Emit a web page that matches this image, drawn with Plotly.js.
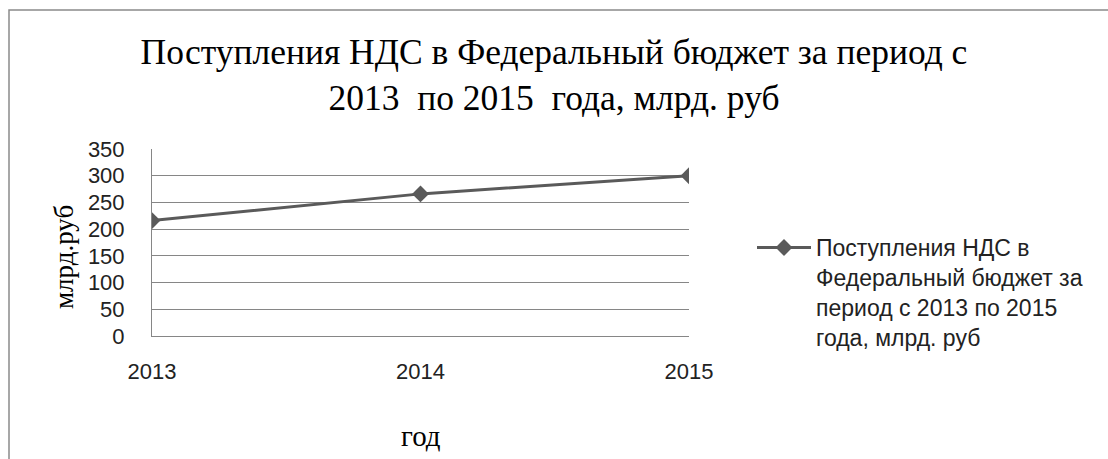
<!DOCTYPE html>
<html>
<head>
<meta charset="utf-8">
<script src="https://cdn.plot.ly/plotly-3.0.1.min.js"></script>
<style>html,body{margin:0;padding:0;background:#fff;}#chart{width:1108px;height:459px;}</style>
</head>
<body>
<div id="chart"></div>
<script>
var years = ['2013', '2014', '2015'];
var vatRevenue = [216, 266, 300];
var yTicks = [0, 50, 100, 150, 200, 250, 300, 350];
var seriesName = 'Поступления НДС в<br>Федеральный бюджет за<br>период с 2013 по 2015<br>года, млрд. руб';
var chartTitle = 'Поступления НДС в Федеральный бюджет за период с<br>2013  по 2015  года, млрд. руб';
var yTitle = 'млрд.руб';
var xTitle = 'год';

var L = 152, R = 689, T = 149, B = 336, W = 1108, H = 459;
function px(x){ return (x - L) / (R - L); }
function py(y){ return (B - y) / (B - T); }

var sansFont = 'Liberation Sans, Arial, sans-serif';
var serifFont = 'Liberation Serif, Times New Roman, serif';

var trace = {
  x: years,
  y: vatRevenue,
  type: 'scatter',
  mode: 'lines+markers',
  name: seriesName,
  line: {color: '#5a5a5a', width: 3},
  marker: {symbol: 'diamond', size: 13, color: '#5a5a5a'},
  showlegend: true,
  hoverinfo: 'x+y'
};

var layout = {
  width: W, height: H,
  margin: {l: L, r: W - R, t: T, b: H - B, pad: 0},
  paper_bgcolor: '#fff',
  plot_bgcolor: '#fff',
  showlegend: true,
  title: {
    text: chartTitle,
    font: {family: serifFont, size: 35.5, color: '#000'},
    x: 0.5, xanchor: 'center', xref: 'container',
    y: 1 - 64 / H, yanchor: 'middle', yref: 'container'
  },
  xaxis: {
    type: 'category',
    range: [0, 2],
    showgrid: false,
    showline: true, linecolor: '#868686', linewidth: 1,
    zeroline: false,
    ticks: 'outside', ticklen: 16, tickcolor: 'rgba(0,0,0,0)',
    tickfont: {family: sansFont, size: 22, color: '#222'},
    fixedrange: true
  },
  yaxis: {
    range: [0, 350],
    tickvals: yTicks,
    ticktext: yTicks.map(String),
    showgrid: true, gridcolor: '#868686', gridwidth: 1,
    showline: true, linecolor: '#868686', linewidth: 1,
    zeroline: false,
    ticks: 'outside', ticklen: 22, tickcolor: 'rgba(0,0,0,0)',
    tickfont: {family: sansFont, size: 22, color: '#222'},
    fixedrange: true
  },
  legend: {
    x: px(752), xanchor: 'left',
    y: py(226), yanchor: 'top',
    valign: 'top',
    itemwidth: 54,
    font: {family: sansFont, size: 23, color: '#222'},
    bgcolor: 'rgba(0,0,0,0)',
    borderwidth: 0
  },
  annotations: [
    {
      text: yTitle, textangle: -90,
      xref: 'paper', yref: 'paper',
      x: px(64), y: py(257), xanchor: 'center', yanchor: 'middle',
      showarrow: false,
      font: {family: serifFont, size: 27, color: '#000'}
    },
    {
      text: xTitle,
      xref: 'paper', yref: 'paper',
      x: px(421), y: py(436), xanchor: 'center', yanchor: 'middle',
      showarrow: false,
      font: {family: serifFont, size: 29, color: '#000'}
    }
  ],
  shapes: [
    {
      type: 'rect', xref: 'paper', yref: 'paper', layer: 'below',
      x0: px(9), x1: px(1130), y0: py(480), y1: py(10),
      line: {color: '#8a8a8a', width: 1.5},
      fillcolor: 'rgba(0,0,0,0)'
    }
  ]
};

Plotly.newPlot('chart', [trace], layout, {displayModeBar: false, staticPlot: true});
</script>
</body>
</html>
